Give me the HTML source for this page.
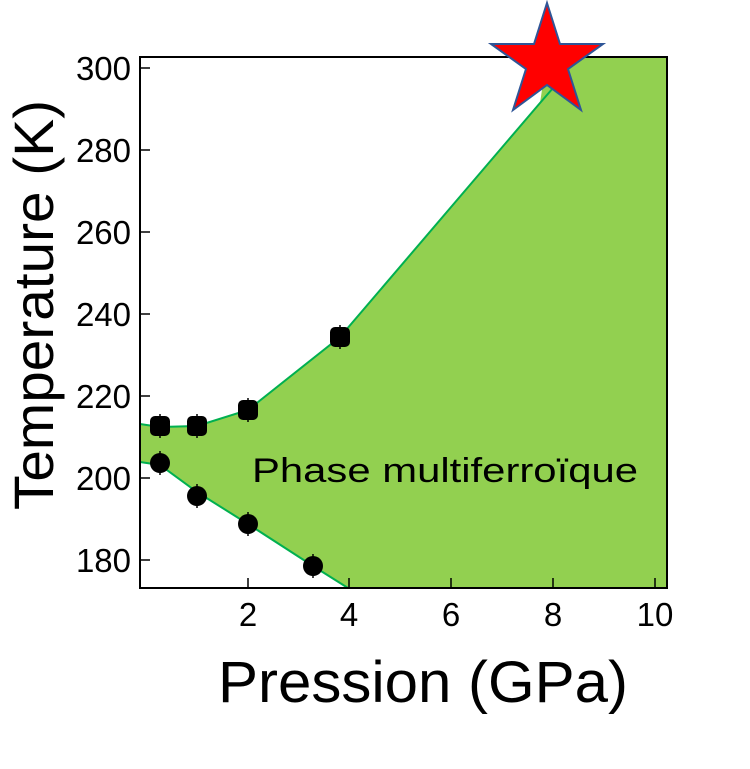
<!DOCTYPE html>
<html><head><style>body{margin:0;background:#fff}</style></head><body>
<svg width="750" height="764" xmlns="http://www.w3.org/2000/svg" font-family="Liberation Sans, Arial, sans-serif">
<polygon points="140,424 160,427 197,426 248,410 340,337 540,103 547,57 667,57 667,588 348,588 313,566 248,524 197,492 160,465 140,462" fill="#92d050"/>
<polyline points="140,424 160,427 197,426 248,410 340,337 540,103 560,80" fill="none" stroke="#00b050" stroke-width="2"/>
<polyline points="140,462 160,465 197,492 248,524 313,566 348,588" fill="none" stroke="#00b050" stroke-width="2"/>
<rect x="140" y="57" width="527" height="531" fill="none" stroke="#000" stroke-width="2"/>
<g stroke="#000" stroke-width="1.5">
<line x1="140" y1="68" x2="150" y2="68"/><line x1="140" y1="150" x2="150" y2="150"/><line x1="140" y1="232" x2="150" y2="232"/><line x1="140" y1="314" x2="150" y2="314"/><line x1="140" y1="396" x2="150" y2="396"/><line x1="140" y1="478" x2="150" y2="478"/><line x1="140" y1="560" x2="150" y2="560"/>
<line x1="248" y1="588" x2="248" y2="578"/><line x1="349" y1="588" x2="349" y2="578"/><line x1="451" y1="588" x2="451" y2="578"/><line x1="553" y1="588" x2="553" y2="578"/><line x1="655" y1="588" x2="655" y2="578"/>
</g>
<g fill="#000" font-size="33" text-anchor="end">
<text x="131" y="80">300</text><text x="131" y="162">280</text><text x="131" y="244">260</text><text x="131" y="326">240</text><text x="131" y="408">220</text><text x="131" y="490">200</text><text x="131" y="572">180</text>
</g>
<g fill="#000" font-size="33" text-anchor="middle">
<text x="248" y="626">2</text><text x="349" y="626">4</text><text x="451" y="626">6</text><text x="553" y="626">8</text><text x="655" y="626">10</text>
</g>
<text x="218" y="702" font-size="58" textLength="410" lengthAdjust="spacingAndGlyphs">Pression (GPa)</text>
<text transform="translate(53,510) rotate(-90)" font-size="56" textLength="410" lengthAdjust="spacingAndGlyphs">Temperature (K)</text>
<text x="252" y="482" font-size="34" textLength="386" lengthAdjust="spacingAndGlyphs">Phase multiferroïque</text>
<g stroke="#000" stroke-width="1.5">
<line x1="160" y1="414" x2="160" y2="438"/><line x1="197" y1="414" x2="197" y2="438"/><line x1="248" y1="398" x2="248" y2="422"/><line x1="340" y1="325" x2="340" y2="349"/>
<line x1="160" y1="451" x2="160" y2="475"/><line x1="197" y1="484" x2="197" y2="508"/><line x1="248" y1="512" x2="248" y2="536"/><line x1="313" y1="554" x2="313" y2="578"/>
</g>
<g fill="#000">
<rect x="150" y="416" width="20" height="20" rx="5"/><rect x="187" y="416" width="20" height="20" rx="5"/><rect x="238" y="400" width="20" height="20" rx="5"/><rect x="330" y="327" width="20" height="20" rx="5"/>
<circle cx="160" cy="463" r="10"/><circle cx="197" cy="496" r="10"/><circle cx="248" cy="524" r="10"/><circle cx="313" cy="566" r="10"/>
</g>
<polygon points="547,3 560,44 603,44 568,69 581,110 547,85 513,110 526,69 491,44 534,44" fill="#f00" stroke="#2f5597" stroke-width="2" stroke-linejoin="miter"/>
</svg>
</body></html>
